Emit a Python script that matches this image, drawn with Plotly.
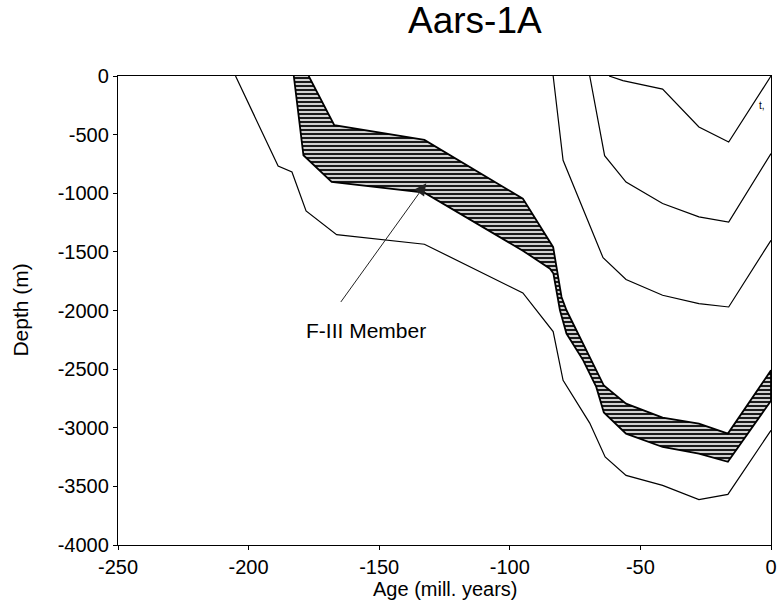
import plotly.graph_objects as go

# Burial history, well Aars-1A: depth of horizons through time
# Age in million years (negative = before present), depth in metres

# Deepest horizon (base of section)
base_age = [-205, -188.7, -183.4, -178, -166.3, -132.7, -95, -83.4, -79.6,
            -69.4, -63.5, -55.5, -41.5, -27.6, -16.5, 0]
base_depth = [0, -768, -819, -1151, -1353, -1435, -1850, -2180, -2595,
              -2960, -3249, -3406, -3491, -3613, -3568, -3022]

# F-III Member: top and base
f3_top_age = [-177, -167.2, -132.7, -95, -83.4, -80.2, -78.3, -69.4, -64,
              -55.5, -41.5, -27.6, -16.5, 0]
f3_top_depth = [0, -420, -545, -1046, -1460, -1885, -1998, -2400, -2640,
                -2794, -2914, -2965, -3050, -2510]
f3_base_age = [-182.7, -179, -168.2, -132.7, -95, -84.6, -83.3, -80.8, -78.3,
               -71.9, -66.9, -64, -55.5, -41.5, -27.6, -16.5, 0]
f3_base_depth = [0, -676, -904, -995, -1490, -1643, -1685, -1998, -2197,
                 -2425, -2652, -2870, -3050, -3164, -3220, -3290, -2770]

# Younger horizons
hA_age = [-83.4, -79.6, -64.3, -55.5, -41.5, -27.6, -16.2, 0]
hA_depth = [0, -719, -1550, -1735, -1870, -1941, -1970, -1401]
hB_age = [-69.4, -63.7, -55.5, -41.5, -27.6, -16.2, 0]
hB_depth = [0, -680, -905, -1088, -1202, -1245, -662]
hC_age = [-62, -56.7, -41.5, -27.6, -16.2, 0]
hC_depth = [0, -40, -112, -435, -563, 0]

x_ticks = [-250, -200, -150, -100, -50, 0]
x_labels = ["-250", "-200", "-150", "-100", "-50", "0"]
y_ticks = [0, -500, -1000, -1500, -2000, -2500, -3000, -3500, -4000]
y_labels = ["0", "-500", "-1000", "-1500", "-2000", "-2500", "-3000",
            "-3500", "-4000"]

FONT = "Liberation Sans, Arial, Helvetica, sans-serif"
line_style = dict(color="black", width=1.2)

fig = go.Figure()

# Hatched F-III Member band
band_x = f3_top_age + f3_base_age[::-1]
band_y = f3_top_depth + f3_base_depth[::-1]
fig.add_trace(go.Scatter(
    x=band_x, y=band_y, mode="lines", fill="toself",
    fillcolor="rgba(0,0,0,0)",
    fillpattern=dict(shape="-", fgcolor="#1a1a1a", fgopacity=1,
                     bgcolor="white", size=4, solidity=0.6),
    line=dict(color="black", width=1.8), hoverinfo="skip",
))

for ax, dp in [(base_age, base_depth), (hA_age, hA_depth),
               (hB_age, hB_depth), (hC_age, hC_depth)]:
    fig.add_trace(go.Scatter(x=ax, y=dp, mode="lines", line=line_style,
                             hoverinfo="skip"))

# Label and pointer for the F-III Member
fig.add_annotation(x=-155.1, y=-2172, text="F-III Member", showarrow=False,
                   font=dict(family=FONT, size=21, color="black"))
fig.add_annotation(x=-132, y=-915, ax=-165.1, ay=-1940, axref="x", ayref="y",
                   text="", showarrow=True, arrowhead=2, arrowsize=2.4,
                   arrowwidth=1, arrowcolor="#222222")
fig.add_annotation(x=-3.4, y=-250, text="t,", showarrow=False,
                   font=dict(family=FONT, size=10, color="black"))

# Title
fig.add_annotation(xref="paper", yref="paper", x=0.546, y=1.118,
                   text="Aars-1A", showarrow=False, xanchor="center",
                   yanchor="middle",
                   font=dict(family=FONT, size=37, color="black"))

# Axis titles
fig.add_annotation(xref="paper", yref="paper", x=0.5, y=-0.094,
                   text="Age (mill. years)", showarrow=False,
                   xanchor="center", yanchor="middle",
                   font=dict(family=FONT, size=20, color="black"))
fig.add_annotation(xref="paper", yref="paper", x=-0.15, y=0.5,
                   text="Depth (m)", showarrow=False, textangle=-90,
                   xanchor="center", yanchor="middle",
                   font=dict(family=FONT, size=21, color="black"))

axis_common = dict(showgrid=False, zeroline=False, showline=True,
                   linecolor="black", linewidth=1.3, mirror=True,
                   ticks="outside", ticklen=4, tickcolor="black",
                   tickfont=dict(family=FONT, size=20, color="black"))

fig.update_xaxes(range=[-250, 0], tickvals=x_ticks, ticktext=x_labels,
                 **axis_common)
fig.update_yaxes(range=[-4000, 0], tickvals=y_ticks, ticktext=y_labels,
                 **axis_common)

fig.update_layout(
    width=783, height=605,
    margin=dict(l=118, r=6, t=76, b=60),
    paper_bgcolor="white", plot_bgcolor="white",
    showlegend=False,
)

fig.write_html("out.html")
